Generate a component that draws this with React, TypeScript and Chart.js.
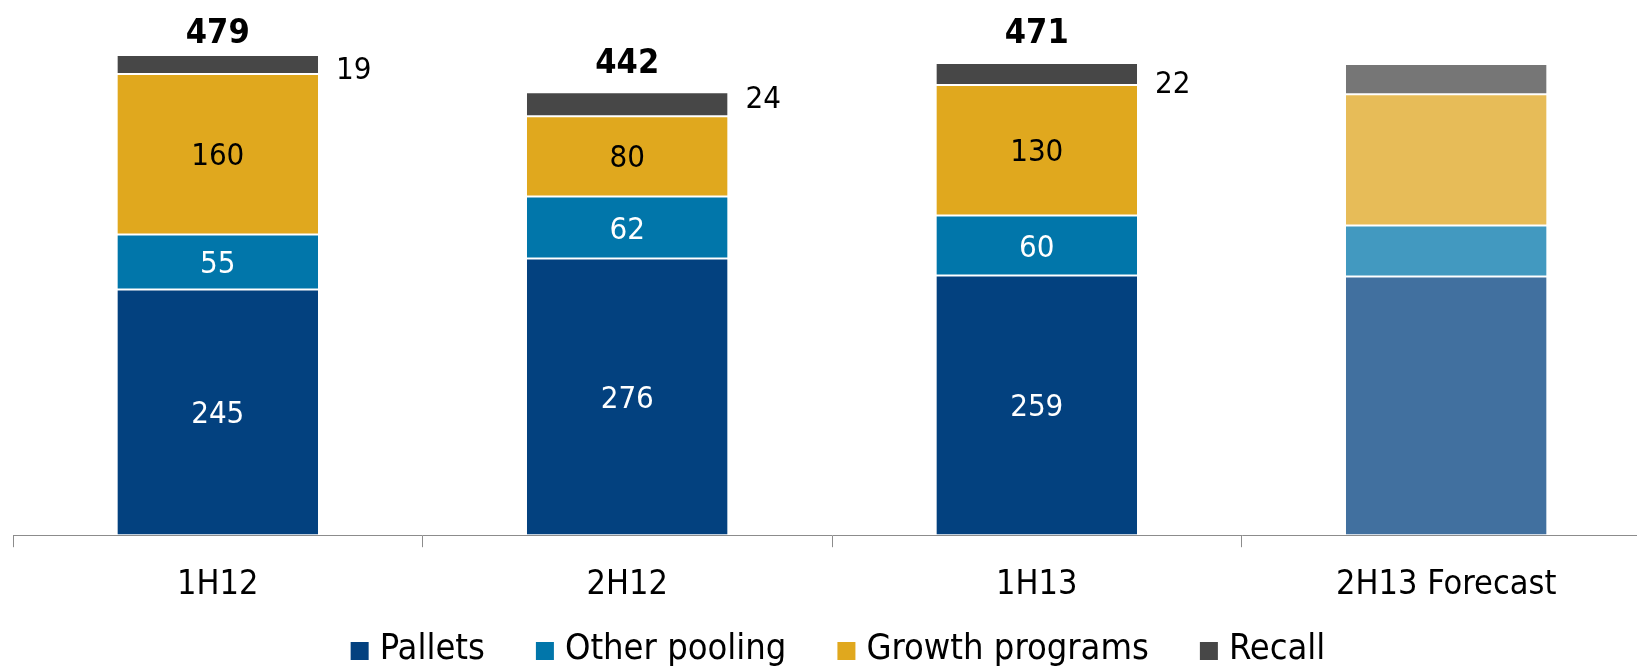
import React, { useEffect, useRef } from "react";
import { Chart, registerables } from "chart.js";

Chart.register(...registerables);

const categories = ["1H12", "2H12", "1H13", "2H13 Forecast"];
const seriesNames = ["Pallets", "Other pooling", "Growth programs", "Recall"];
const pallets = [245, 276, 259, 258];
const otherPooling = [55, 62, 60, 51];
const growthPrograms = [160, 80, 130, 131];
const recall = [19, 24, 22, 30];
const totals = [479, 442, 471];

const solidColors = ["#03417F", "#0176AA", "#E0A81E", "#474747"];
const forecastColors = ["#41709F", "#4299C0", "#E7BC58", "#767676"];

const FONT = "'DejaVu Sans Condensed', 'DejaVu Sans', sans-serif";
const labeledCount = totals.length;
const recallLabelDy = [6, -4, 11, 0];
const totalLabelRise = [21, 28, 29, 0];
const innerLabelDy = 3;

const valueLabels = {
  id: "valueLabels",
  afterDatasetsDraw(chart: any) {
    const ctx = chart.ctx;
    ctx.save();
    chart.data.datasets.forEach((ds: any, di: number) => {
      const meta = chart.getDatasetMeta(di);
      meta.data.forEach((el: any, i: number) => {
        if (i >= labeledCount) return;
        const { x, y, base, width } = el.getProps(["x", "y", "base", "width"], true);
        const v = ds.data[i];
        if (di < 3) {
          ctx.font = `31px ${FONT}`;
          ctx.fillStyle = di === 2 ? "#000000" : "#FFFFFF";
          ctx.textAlign = "center";
          ctx.textBaseline = "middle";
          ctx.fillText(String(v), x, (y + base) / 2 + innerLabelDy);
        } else {
          ctx.font = `31px ${FONT}`;
          ctx.fillStyle = "#000000";
          ctx.textAlign = "left";
          ctx.textBaseline = "middle";
          ctx.fillText(String(v), x + width / 2 + 18, (y + base) / 2 + recallLabelDy[i]);
          ctx.font = `bold 34px ${FONT}`;
          ctx.textAlign = "center";
          ctx.fillText(String(totals[i]), x, y - totalLabelRise[i]);
        }
      });
    });
    ctx.restore();
  },
};

// Legend drawn on the chart canvas (bottom, centred)
const bottomLegend = {
  id: "bottomLegend",
  afterDraw(chart: any) {
    const ctx = chart.ctx;
    const box = 18;
    const boxGap = 11;
    const itemGap = 51;
    const centerX = 838;
    const cy = 650;
    ctx.save();
    ctx.font = `36px ${FONT}`;
    ctx.textBaseline = "middle";
    ctx.textAlign = "left";
    const items = chart.data.datasets.map((ds: any, i: number) => ({
      text: ds.label as string,
      color: solidColors[i],
      w: ctx.measureText(ds.label).width,
    }));
    const total =
      items.reduce((s: number, it: any) => s + box + boxGap + it.w, 0) +
      itemGap * (items.length - 1);
    let x = centerX - total / 2;
    items.forEach((it: any) => {
      ctx.fillStyle = it.color;
      ctx.fillRect(x, cy - box / 2 + 1, box, box);
      x += box + boxGap;
      ctx.fillStyle = "#000000";
      ctx.fillText(it.text, x, cy);
      x += it.w + itemGap;
    });
    ctx.restore();
  },
};

export default function App() {
  const ref = useRef<HTMLCanvasElement | null>(null);
  useEffect(() => {
    if (!ref.current) return;
    Chart.defaults.font.family = FONT;
    const series = [pallets, otherPooling, growthPrograms, recall];
    const chart = new Chart(ref.current, {
      type: "bar",
      data: {
        labels: categories,
        datasets: series.map((d, si) => ({
          label: seriesNames[si],
          data: d,
          backgroundColor: categories.map((_, ci) =>
            ci === categories.length - 1 ? forecastColors[si] : solidColors[si]
          ),
          borderColor: "#FFFFFF",
          borderWidth: { top: 1, bottom: 1, left: 0, right: 0 },
          borderSkipped: false,
          barPercentage: 0.49,
          categoryPercentage: 1,
        })),
      },
      options: {
        animation: false,
        responsive: true,
        maintainAspectRatio: false,
        layout: { padding: { left: 13, right: 9, top: 34, bottom: 43 } },
        plugins: {
          legend: { display: false },
          tooltip: { enabled: false },
        },
        scales: {
          x: {
            stacked: true,
            grid: {
              display: true,
              drawOnChartArea: false,
              drawTicks: true,
              tickLength: 12,
              color: "#8C8C8C",
              offset: true,
            },
            border: { display: true, color: "#8C8C8C", width: 1 },
            ticks: { color: "#000000", font: { size: 34, family: FONT }, padding: 18 },
          },
          y: {
            stacked: true,
            display: false,
            min: 0,
            max: 500,
          },
        },
      },
      plugins: [valueLabels, bottomLegend],
    });
    return () => chart.destroy();
  }, []);

  return (
    <div
      style={{
        position: "fixed",
        left: 0,
        top: 0,
        width: "1637px",
        height: "667px",
        overflow: "hidden",
        background: "#FFFFFF",
      }}
    >
      <div style={{ position: "relative", width: "1660px", height: "667px" }}>
        <canvas ref={ref} />
      </div>
    </div>
  );
}
